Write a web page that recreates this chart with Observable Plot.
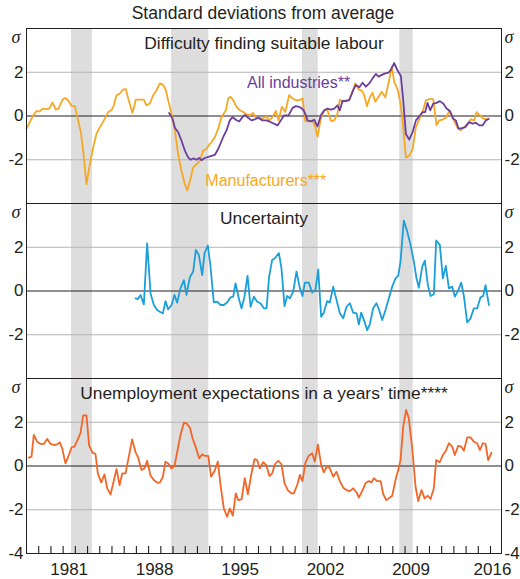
<!DOCTYPE html>
<html><head><meta charset="utf-8">
<script src="https://cdn.jsdelivr.net/npm/d3@7"></script>
<script src="https://cdn.jsdelivr.net/npm/@observablehq/plot@0.6"></script>
<style>
body{margin:0;background:#fff;font-family:"Liberation Sans",Arial,sans-serif;}
#sub{box-sizing:border-box;height:22px;padding-top:5px;padding-left:6px;line-height:16px;font-size:17.5px;text-align:center;width:520px;color:#231f20;white-space:nowrap;}
#chart svg{display:block;}
</style></head><body>
<div id="sub">Standard deviations from average</div>
<div id="chart"></div>
<script>
const panels = ["Difficulty finding suitable labour", "Uncertainty", "Unemployment expectations in a years’ time****"];

const manufYears = [1978.00,1978.55,1978.82,1979.04,1979.36,1979.64,1979.86,1980.13,1980.40,1980.62,
1980.95,1981.17,1981.41,1981.69,1981.96,1982.23,1982.45,1982.64,1982.91,1983.19,
1983.46,1983.73,1984.01,1984.42,1984.69,1984.96,1985.15,1985.37,1985.64,1985.92,
1986.14,1986.33,1986.68,1986.95,1987.28,1987.61,1987.83,1988.10,1988.37,1988.65,
1988.92,1989.19,1989.41,1989.60,1989.88,1990.15,1990.42,1990.69,1990.97,1991.16,
1991.38,1991.65,1991.92,1992.20,1992.47,1992.74,1992.96,1993.15,1993.42,1993.70,
1993.97,1994.33,1994.52,1994.71,1994.93,1995.20,1995.47,1995.75,1996.02,1996.29,
1996.56,1996.84,1997.11,
1997.33,1997.60,1997.88,1998.15,1998.42,1998.64,1998.91,1999.19,1999.51,1999.79,
2000.06,2000.33,2000.61,2000.83,2001.10,2001.43,2001.64,2001.83,2002.11,2002.38,
2002.65,2002.93,2003.20,2003.47,2003.66,2003.88,2004.16,2004.43,2004.70,2004.92,
2005.19,2005.47,2005.66,2005.88,2006.12,2006.34,2006.56,2006.83,2007.10,2007.38,
2007.65,2007.92,2008.11,2008.39,2008.58,2008.80,2009.07,2009.34,2009.62,2009.89,
2010.16,2010.43,2010.71,2010.98,2011.31,2011.58,2011.80,2012.07,2012.35,2012.62,
2012.85,2013.11,2013.30,2013.57,2013.85,2014.12,2014.39,2014.67,2014.86,2015.13,
2015.40,2015.68,2015.84];
const manufValues = [-0.58,0.03,0.23,0.2,0.34,0.31,0.34,0.62,0.29,0.34,
0.75,0.82,0.72,0.46,0.45,-0.2,-0.74,-1.58,-3.12,-2.2,
-1.43,-0.82,-0.51,-0.12,0.18,0.26,0.49,0.95,1.03,1.22,
1.23,0.8,0.14,0.75,0.75,0.75,0.49,0.57,0.95,1.18,
1.49,1.42,1.18,0.72,0.11,-0.66,-1.74,-2.51,-3.12,-3.4,
-2.97,-2.35,-2.2,-2.05,-1.58,-1.51,-1.31,-1.2,-0.97,-0.58,
-0.05,0.26,0.8,0.88,0.72,0.42,0.26,0.18,0.08,0.03,
0.14,-0.12,-0.08,
-0.12,-0.02,-0.2,-0.05,0.23,-0.2,0.42,0.18,0.95,0.8,
0.72,0.72,0.8,-0.25,-0.25,-0.2,-0.51,-0.94,-0.12,0.26,
0.26,-0.23,-0.2,0.11,0.75,0.65,0.72,0.75,1.11,1.49,
1.22,1.15,0.95,0.45,0.85,1.06,0.65,0.88,1.11,0.85,
1.52,2.26,1.57,1.22,0.72,-0.2,-1.89,-1.82,-1.51,-0.51,
-0.15,0.18,0.72,0.77,0.77,-0.43,-0.2,-0.17,-0.08,0.23,
-0.05,-0.32,-0.54,-0.66,-0.51,-0.35,-0.15,-0.2,0.18,0.03,
-0.12,-0.15,-0.12];

const allYears = [1989.68,1989.96,1990.15,1990.42,1990.69,1990.97,1991.24,1991.43,1991.65,1991.92,
1992.14,1992.33,1992.60,1992.96,1993.42,1993.70,1994.10,1994.38,1994.65,1994.87,
1995.14,1995.42,1995.69,1995.88,1996.15,1996.43,1996.70,1996.97,
1997.33,1997.60,1997.88,1998.15,1998.56,1998.83,1999.10,1999.46,1999.79,2000.06,
2000.33,2000.55,2000.74,2001.02,2001.29,2001.56,2001.83,2002.11,2002.38,2002.65,
2002.93,2003.20,2003.47,2003.66,2003.88,2004.16,2004.43,2004.70,2004.97,2005.25,
2005.52,2005.79,2006.07,2006.34,2006.61,2006.83,2007.10,2007.38,2007.65,2007.84,
2008.11,2008.39,2008.66,2008.85,2009.07,2009.34,2009.62,2009.89,2010.16,2010.43,
2010.65,2010.84,2011.06,2011.31,2011.58,2011.85,2012.13,2012.40,2012.67,2012.95,
2013.16,2013.38,2013.66,2013.93,2014.26,2014.53,2014.80,2015.08,2015.35,2015.62,
2015.84];
const allValues = [0.14,-0.12,-0.54,-0.74,-1.12,-1.58,-1.89,-2.0,-1.94,-2.0,
-1.92,-2.02,-1.92,-1.86,-1.78,-1.51,-0.97,-0.66,-0.2,-0.05,
-0.17,-0.25,-0.05,0.05,-0.08,-0.2,-0.15,-0.08,
-0.2,-0.2,-0.25,-0.32,-0.43,-0.2,0.03,0.03,0.37,0.45,
0.42,0.34,0.22,-0.2,-0.25,-0.17,-0.48,0.03,0.26,0.34,
0.29,0.34,0.49,0.26,0.69,0.68,0.72,1.11,1.42,1.31,
1.52,1.34,1.49,1.72,1.92,1.8,1.88,1.95,1.98,2.11,
2.42,2.08,1.83,0.72,-0.82,-1.08,-0.74,-0.2,-0.02,0.18,
0.18,0.6,0.26,0.57,0.6,0.68,0.57,0.34,0.23,-0.12,
-0.2,-0.58,-0.55,-0.51,-0.28,-0.35,-0.31,-0.43,-0.43,-0.2,
-0.14];

const uncYears = [1986.93,1987.12,1987.34,1987.61,1987.88,1988.16,1988.43,1988.70,1988.92,1989.17,
1989.38,1989.60,1989.88,1990.12,1990.34,1990.61,1990.89,1991.10,1991.38,1991.65,
1991.87,1992.11,1992.39,1992.58,1992.85,1993.07,1993.34,1993.62,1993.89,1994.16,
1994.43,1994.71,1994.93,1995.12,1995.39,1995.61,1995.85,1996.10,1996.35,1996.62,
1996.89,1997.16,1997.44,1997.66,1997.87,1998.12,1998.34,1998.67,1998.88,1999.13,
1999.35,1999.57,1999.84,2000.11,2000.39,2000.60,2000.80,2001.12,2001.40,2001.67,
2001.89,2002.13,2002.35,2002.62,2002.84,2003.12,2003.39,2003.66,2003.94,2004.21,
2004.48,2004.75,2005.03,2005.22,2005.41,2005.68,2005.90,2006.12,2006.39,2006.66,
2006.88,2007.13,2007.40,2007.67,2007.95,2008.22,2008.44,2008.63,2008.90,2009.18,
2009.45,2009.72,2009.94,2010.13,2010.41,2010.62,2010.87,2011.09,2011.36,2011.55,
2011.85,2012.10,2012.34,2012.59,2012.86,2013.08,2013.35,2013.60,2013.82,2014.09,
2014.36,2014.64,2014.91,2015.18,2015.40,2015.59,2015.87];
const uncValues = [-0.34,-0.37,-0.18,-0.61,2.18,-0.11,-0.64,-0.87,-0.95,-1.02,
-0.46,-0.84,-0.64,-0.18,-0.53,0.12,0.5,-0.18,0.63,0.89,
1.88,1.65,0.73,1.73,2.08,1.11,-0.52,-0.49,-0.64,-0.64,
-0.53,-0.29,-0.26,0.35,-0.34,-0.79,-0.26,0.69,-0.72,-0.26,
-0.49,-0.56,-0.79,-0.79,0.66,1.42,1.5,1.73,1.04,-0.69,
-0.23,-0.34,-0.03,0.89,0.12,-0.23,0.38,0.38,-0.08,0.08,
0.99,-1.18,-0.99,-0.46,-0.53,0.2,-0.41,-1.02,-1.25,-0.72,
-0.56,-0.99,-1.02,-1.53,-0.99,-1.4,-1.79,-1.51,-0.79,-0.56,
-0.87,-1.33,-0.87,-0.34,0.2,0.58,0.69,1.34,3.22,2.72,
2.11,1.34,0.58,0.15,1.11,1.39,0.27,-0.23,-0.15,2.31,
2.11,0.58,1.15,0.12,0.2,-0.26,0.02,0.38,-0.23,-1.44,
-1.25,-0.79,-0.79,-0.29,-0.23,0.27,-0.64];

const unempYears = [1978.19,1978.41,1978.60,1978.87,1979.15,1979.42,1979.69,1979.97,1980.24,1980.51,
1980.73,1980.92,1981.19,1981.47,1981.69,1981.93,1982.20,1982.42,1982.64,1982.91,
1983.13,1983.41,1983.65,1983.84,1984.12,1984.39,1984.61,1984.88,1985.10,1985.37,
1985.62,1985.84,1986.11,1986.38,1986.65,1986.93,1987.15,1987.42,1987.66,1987.88,
1988.16,1988.43,1988.70,1988.92,1989.17,1989.38,1989.66,1989.85,1990.12,1990.34,
1990.61,1990.89,1991.10,1991.38,1991.60,1991.87,1992.14,1992.39,1992.61,1992.88,
1993.12,1993.40,1993.67,1993.89,1994.16,1994.43,1994.65,1994.90,1995.14,1995.34,
1995.61,1995.88,1996.13,1996.40,1996.67,1996.89,1997.11,1997.38,1997.63,1997.90,
1998.12,1998.34,1998.61,1998.88,1999.13,1999.40,1999.68,1999.89,2000.17,2000.39,
2000.60,2000.85,2001.12,2001.40,2001.61,2001.86,2002.13,2002.35,2002.62,2002.84,
2003.12,2003.39,2003.66,2003.94,2004.21,2004.48,2004.75,2005.03,2005.22,2005.49,
2005.76,2006.04,2006.26,2006.45,2006.72,2007.00,2007.21,2007.46,2007.67,2007.95,
2008.22,2008.44,2008.63,2008.85,2009.09,2009.31,2009.59,2009.86,2010.08,2010.35,
2010.60,2010.87,2011.09,2011.36,2011.55,2011.83,2012.10,2012.34,2012.59,2012.86,
2013.08,2013.35,2013.60,2013.82,2014.09,2014.36,2014.64,2014.91,2015.13,2015.37,
2015.59,2015.81,2016.08];
const unempValues = [0.38,0.43,1.42,1.11,1.01,1.01,1.24,1.01,0.96,0.99,
1.08,0.81,0.12,0.5,0.85,0.89,1.22,1.5,2.31,2.31,
0.93,0.61,0.55,-0.34,-0.75,-0.38,-1.02,-1.3,-0.79,-0.14,
-0.87,-0.34,-0.34,0.43,1.22,0.63,0.38,-0.18,-0.11,0.24,
-0.44,-0.64,-0.76,-0.76,-0.49,0.2,0.08,-0.11,0,0.63,
1.42,1.98,1.95,1.76,1.27,0.84,0.35,0.53,0.46,0.46,
-0.49,-0.23,0.2,-0.87,-1.94,-2.32,-1.94,-2.27,-1.25,-1.56,
-1.53,-0.56,-1.3,-0.41,0.31,0.27,-0.11,0.17,0.05,-0.46,
-0.34,0.08,0.24,0.08,-0.79,-1.1,-1.25,-1.25,-0.87,-0.41,
-0.69,0.17,0.47,0.58,0.2,0.99,0.05,-0.29,0,-0.11,
-0.49,-0.26,-0.69,-0.99,-1.1,-1.15,-1.02,-1.21,-1.44,-1.15,
-0.79,-0.69,-0.75,-0.56,-0.69,-0.69,-1.28,-1.56,-1.48,-1.36,
-0.64,-0.18,0.27,1.8,2.56,2.18,0.81,-0.95,-1.6,-1.1,
-1.48,-1.36,-1.51,-1.02,0.27,0.17,0.5,0.69,1.04,0.89,
0.5,0.92,0.89,0.7,1.31,1.31,1.11,1.04,0.73,1.04,
1.01,0.27,0.61];

const recessionStart = [1981.69, 1989.88, 2000.60, 2008.57];
const recessionEnd   = [1983.40, 1992.93, 2001.89, 2009.67];

const yTickValues = [-2, 0, 2];
const yBottomTick = [-4];
const xMinorTicks = d3.range(1979, 2017);
const xLabelYears = [1981, 1988, 1995, 2002, 2009, 2016];

const seriesNames = ["All industries**", "Manufacturers***"];
const seriesLabelX = [2000.28, 1997.6];
const seriesLabelY = [1.51, -2.95];

const colors = {
  manuf: "#f7a823",
  all: "#6a3e9e",
  unc: "#1a9fda",
  unemp: "#f26627",
  shade: "#dcdddc",
  grid: "#b4b4b4",
  ink: "#231f20"
};

const toRows = (xs, ys, panel) => xs.map((x, i) => ({panel, x, y: ys[i]}));
const manufData = toRows(manufYears, manufValues, panels[0]);
const allData = toRows(allYears, allValues, panels[0]);
const uncData = toRows(uncYears, uncValues, panels[1]);
const unempData = toRows(unempYears, unempValues, panels[2]);
const recessions = recessionStart.map((s, i) => ({x1: s, x2: recessionEnd[i]}));
const panelRows = panels.map(p => ({panel: p}));
const seriesLabels = seriesNames.map((t, i) => ({panel: panels[0], text: t, x: seriesLabelX[i], y: seriesLabelY[i], color: i === 0 ? colors.all : colors.manuf}));

const font = "'Liberation Sans', Arial, sans-serif";
const sigmaFont = "'Liberation Serif', 'DejaVu Serif', serif";
const yAxisStyle = {label: null, tickSize: 0, tickPadding: 3, tickFormat: d => String(d), fontSize: 17};

const chart = Plot.plot({
  width: 520,
  height: 557,
  marginTop: 5,
  marginBottom: 26,
  marginLeft: 26,
  marginRight: 19,
  style: {fontFamily: font, fontSize: "17px", color: colors.ink, background: "#fff"},
  x: {domain: [1978, 2016.9]},
  y: {domain: [-4, 4]},
  fy: {domain: panels, padding: 0, axis: null},
  marks: [
    Plot.rect(recessions, {x1: "x1", x2: "x2", fill: colors.shade}),
    Plot.ruleY([-2, 2], {stroke: colors.grid, strokeWidth: 1}),
    Plot.ruleY([0], {stroke: colors.ink, strokeWidth: 1}),
    Plot.line(manufData, {x: "x", y: "y", fy: "panel", stroke: colors.manuf, strokeWidth: 1.8}),
    Plot.line(allData, {x: "x", y: "y", fy: "panel", stroke: colors.all, strokeWidth: 1.8}),
    Plot.line(uncData, {x: "x", y: "y", fy: "panel", stroke: colors.unc, strokeWidth: 1.8}),
    Plot.line(unempData, {x: "x", y: "y", fy: "panel", stroke: colors.unemp, strokeWidth: 1.8}),
    Plot.frame({stroke: colors.ink, strokeWidth: 1}),
    Plot.axisX(xMinorTicks, {anchor: "bottom", label: null, tickSize: -7, stroke: colors.ink, strokeWidth: 1.1, tickFormat: () => ""}),
    Plot.axisY(yTickValues, {anchor: "left", ...yAxisStyle}),
    Plot.axisY(yTickValues, {anchor: "right", ...yAxisStyle}),
    Plot.axisY(yBottomTick, {anchor: "left", facetAnchor: "bottom", ...yAxisStyle}),
    Plot.axisY(yBottomTick, {anchor: "right", facetAnchor: "bottom", ...yAxisStyle}),
    Plot.axisX(xLabelYears.slice(0, -1), {anchor: "bottom", label: null, tickSize: 0, tickPadding: 9, dx: 6, tickFormat: "d", fontSize: 17}),
    Plot.axisX(xLabelYears.slice(-1), {anchor: "bottom", label: null, tickSize: 0, tickPadding: 9, dx: 2, tickFormat: "d", fontSize: 17}),
    Plot.text(panelRows, {fy: "panel", text: "panel", frameAnchor: "top", lineAnchor: "top", dy: 8.5, fontSize: 17.4, fill: colors.ink}),
    Plot.text(panelRows, {fy: "panel", text: () => "σ", frameAnchor: "top-left", textAnchor: "middle", lineAnchor: "middle", dx: -10.5, dy: 9, fontFamily: sigmaFont, fontStyle: "italic", fontSize: 18, fill: colors.ink}),
    Plot.text(panelRows, {fy: "panel", text: () => "σ", frameAnchor: "top-right", textAnchor: "middle", lineAnchor: "middle", dx: 7.5, dy: 9, fontFamily: sigmaFont, fontStyle: "italic", fontSize: 18, fill: colors.ink}),
    Plot.text(seriesLabels, {fy: "panel", x: "x", y: "y", text: "text", fill: "color", fontSize: 16, textAnchor: "middle", lineAnchor: "middle"})
  ]
});
document.getElementById("chart").appendChild(chart);
</script></body></html>
